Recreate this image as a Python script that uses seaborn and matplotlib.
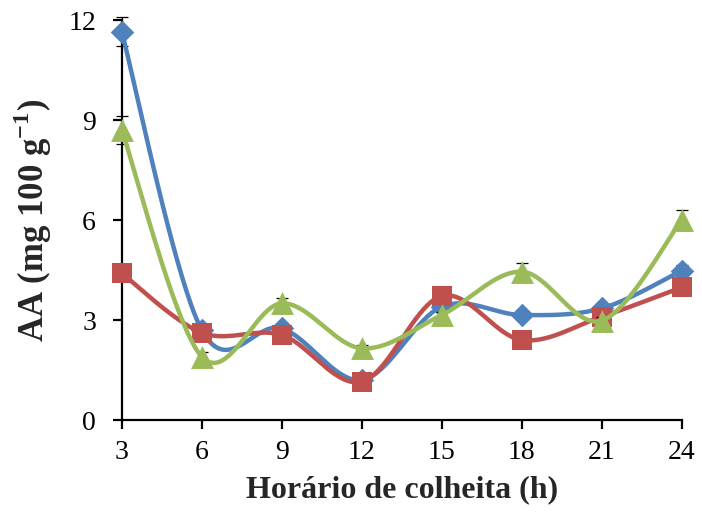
import matplotlib
matplotlib.use('Agg')
import matplotlib.pyplot as plt
import numpy as np
import seaborn as sns

hours = [3, 6, 9, 12, 15, 18, 21, 24]

aa_blue = [11.65, 2.7, 2.75, 1.2, 3.4, 3.15, 3.35, 4.48]
aa_red = [4.4, 2.62, 2.55, 1.15, 3.72, 2.4, 3.1, 3.98]
aa_green = [8.7, 1.9, 3.5, 2.15, 3.15, 4.45, 2.98, 6.0]

err_blue = [0.43, 0.1, 0.1, 0.1, 0.1, 0.1, 0.1, 0.17]
err_red = [0.15, 0.15, 0.15, 0.15, 0.15, 0.15, 0.15, 0.15]
err_green = [0.42, 0.15, 0.17, 0.1, 0.1, 0.25, 0.1, 0.3]

BLUE = '#4F81BD'
RED = '#C0504D'
GREEN = '#9BBB59'

sns.set_style('white')
plt.rcParams['font.family'] = ['Liberation Serif', 'DejaVu Serif']
plt.rcParams['mathtext.fontset'] = 'custom'
plt.rcParams['mathtext.rm'] = 'Liberation Serif'
plt.rcParams['mathtext.bf'] = 'Liberation Serif:bold'


def smooth(x, y, n=40):
    # excel-like smoothed line (catmull-rom bezier)
    x = np.asarray(x, float)
    y = np.asarray(y, float)
    px = np.concatenate([[x[0]], x, [x[-1]]])
    py = np.concatenate([[y[0]], y, [y[-1]]])
    t = np.linspace(0, 1, n)
    xs, ys = [], []
    for i in range(1, len(px) - 2):
        p0 = np.array([px[i - 1], py[i - 1]])
        p1 = np.array([px[i], py[i]])
        p2 = np.array([px[i + 1], py[i + 1]])
        p3 = np.array([px[i + 2], py[i + 2]])
        c1 = p1 + (p2 - p0) / 6
        c2 = p2 - (p3 - p1) / 6
        b = ((1 - t) ** 3)[:, None] * p1 + (3 * (1 - t) ** 2 * t)[:, None] * c1 \
            + (3 * (1 - t) * t ** 2)[:, None] * c2 + (t ** 3)[:, None] * p2
        xs.append(b[:, 0])
        ys.append(b[:, 1])
    return np.concatenate(xs), np.concatenate(ys)


fig = plt.figure(figsize=(7.02, 5.20), dpi=100)
ax = fig.add_axes([0.1734, 0.1923, 0.7977, 0.7692])

series = [
    (aa_blue, err_blue, BLUE, 'D', 12),
    (aa_red, err_red, RED, 's', 15),
    (aa_green, err_green, GREEN, '^', 16.5),
]

for k, (vals, errs, col, mk, ms) in enumerate(series):
    ax.errorbar(hours, vals, yerr=errs, fmt='none', ecolor='black',
                elinewidth=0.8, capsize=4, capthick=0.9, zorder=2 + 3 * k,
                clip_on=False)
    sx, sy = smooth(hours, vals)
    ax.plot(sx, sy, color=col, lw=3.2, solid_capstyle='round',
            zorder=3 + 3 * k, clip_on=False)
    sns.scatterplot(x=hours, y=vals, marker=mk, s=ms ** 2, color=col,
                    edgecolor=col, linewidth=0, ax=ax, zorder=4 + 3 * k,
                    clip_on=False)

ax.set_xlim(3, 24)
ax.set_ylim(0, 12)
ax.set_xticks(hours)
ax.set_yticks([0, 3, 6, 9, 12])

for side in ['top', 'right']:
    ax.spines[side].set_visible(False)
for side in ['left', 'bottom']:
    ax.spines[side].set_color('black')
    ax.spines[side].set_linewidth(1.6)

ax.tick_params(axis='both', direction='out', length=6.5, width=1.6,
               color='black', labelsize=20, labelcolor='black')
ax.tick_params(axis='x', pad=8, bottom=True)
ax.tick_params(axis='y', pad=12, left=True)

ax.set_xlabel('Horário de colheita (h)', fontsize=23, fontweight='bold', labelpad=7)
ax.set_ylabel(r'AA (mg 100 g$^{\mathbf{-1}}$)', fontsize=25, fontweight='bold',
              labelpad=10)

fig.savefig('out.png', dpi=100)
